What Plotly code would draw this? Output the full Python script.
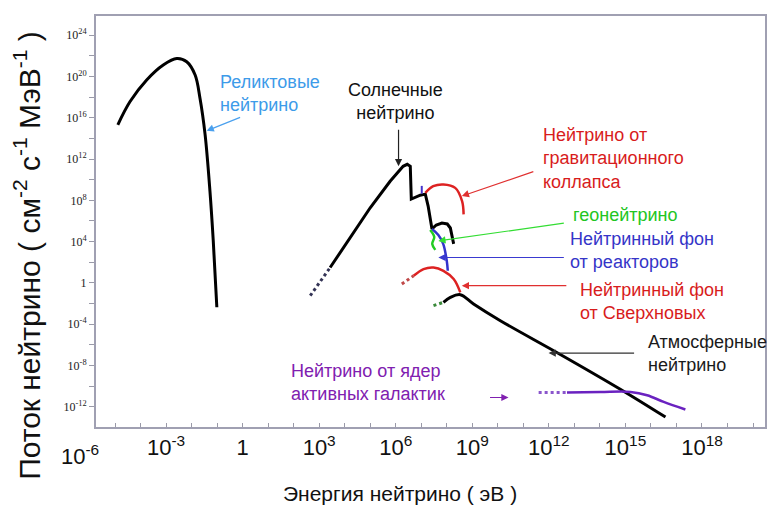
import numpy as np
import plotly.graph_objects as go

# ---- data: log10(E / eV) and log10(flux) ----
relic_logE = [-4.89, -4.41, -3.76, -3.11, -2.58, -2.19, -1.86, -1.67, -1.47, -1.28, -1.15, -1.01]
relic_logF = [15.32, 17.57, 19.66, 21.11, 21.74, 21.43, 20.14, 17.89, 14.36, 8.89, 4.07, -2.36]

solar_dot_logE = [2.65, 3.43]
solar_dot_logF = [-1.24, 1.49]
solar_logE = [3.43, 4.22, 5.00, 5.78, 6.29, 6.45, 6.57, 6.61, 6.96, 7.16, 7.27, 7.42, 7.59, 7.81, 8.02, 8.14, 8.22, 8.27]
solar_logF = [1.49, 4.39, 7.28, 9.85, 11.30, 11.49, 11.30, 8.12, 8.50, 8.60, 7.44, 5.23, 5.61, 5.80, 5.71, 5.32, 4.55, 3.78]

collapse_logE = [7.16, 7.47, 7.87, 8.33, 8.60, 8.66]
collapse_logF = [8.73, 9.37, 9.54, 9.21, 7.93, 6.64]

reactor_logE = [7.42, 7.67, 7.86, 8.00, 8.04]
reactor_logF = [5.23, 4.65, 3.78, 2.14, 1.18]
reactor_tick_logE = [7.02, 7.02]
reactor_tick_logF = [9.40, 8.65]

geo_logE = [7.35, 7.51, 7.43, 7.55]
geo_logF = [5.13, 4.45, 3.78, 3.20]

sn_dot_logE = [6.24, 6.70]
sn_dot_logF = [-0.11, 0.69]
sn_logE = [6.70, 7.09, 7.48, 7.87, 8.27, 8.53]
sn_logF = [0.69, 1.34, 1.49, 1.17, 0.37, -0.92]

atm_dot_logE = [7.48, 7.87]
atm_dot_logF = [-2.20, -1.88]
atm_logE = [7.87, 8.14, 8.53, 9.05, 10.10, 12.45, 14.80, 16.57]
atm_logF = [-1.88, -1.40, -1.14, -2.04, -3.66, -6.93, -10.30, -13.0]

agn_dot_logE = [11.60, 12.71]
agn_dot_logF = [-10.62, -10.62]
agn_logE = [12.71, 14.02, 15.20, 15.85, 16.50, 17.35]
agn_logF = [-10.62, -10.57, -10.56, -10.88, -11.53, -12.26]

# tick labels
x_tick_exp = list(range(-5, 21))
x_label_exp = [-3, 0, 3, 6, 9, 12, 15, 18]
y_tick_exp = list(range(-12, 25, 2))
y_label_exp = [-12, -8, -4, 0, 4, 8, 12, 16, 20, 24]

# labels: (text, color, logE, logF, xanchor)
labels = [
    ("Реликтовые<br>нейтрино", "#3d9be9", -0.96, 18.34, "left"),
    ("Солнечные<br>нейтрино", "#111111", 5.98, 17.62, "center"),
    ("Нейтрино от<br>гравитационного<br>коллапса", "#d81c1c", 11.71, 12.07, "left"),
    ("геонейтрино", "#22c522", 12.88, 6.57, "left"),
    ("Нейтринный фон<br>от реакторов", "#3535c8", 12.76, 3.10, "left"),
    ("Нейтринный фон<br>от Сверхновых", "#d81c1c", 13.16, -1.82, "left"),
    ("Атмосферные<br>нейтрино", "#1a1a1a", 15.82, -6.83, "left"),
    ("Нейтрино от ядер<br>активных галактик", "#8020b0", 1.82, -9.63, "left"),
]
# arrows: (head logE, head logF, ax px, ay px, color)
arrows = [
    (-1.41, 14.74, 35, -14, "#4aa0ee"),
    (6.11, 11.30, 0, -38, "#222222"),
    (8.59, 8.41, 73, -25, "#e03030"),
    (7.67, 4.07, 127, -18, "#33dd33"),
    (7.67, 2.46, 127, 0, "#3a3ad0"),
    (8.59, -0.27, 106, 0, "#e03030"),
    (11.99, -6.80, 87, 0, "#333333"),
    (10.42, -11.10, -20, 0, "#8020b0"),
]

def p10(a):
    return 10.0 ** np.asarray(a, dtype=float)

fig = go.Figure()

def add(xe, ye, color, width=3, dash="solid", shape="linear"):
    fig.add_trace(go.Scatter(x=p10(xe), y=p10(ye), mode="lines",
                             line=dict(color=color, width=width, dash=dash, shape=shape),
                             hoverinfo="skip", showlegend=False))

add(relic_logE, relic_logF, "black", 3, shape="spline")
add(solar_dot_logE, solar_dot_logF, "#333355", 3, dash="dot")
add(sn_dot_logE, sn_dot_logF, "#c04848", 3, dash="dot")
add(atm_dot_logE, atm_dot_logF, "#3a8a3a", 3, dash="dot")
add(agn_dot_logE, agn_dot_logF, "#8a55cc", 3, dash="dot")
add(solar_logE, solar_logF, "black", 3)
add(collapse_logE, collapse_logF, "#dd2222", 2.5, shape="spline")
add(sn_logE, sn_logF, "#dd2222", 2.5, shape="spline")
add(atm_logE, atm_logF, "black", 3, shape="spline")
add(reactor_logE, reactor_logF, "#3333cc", 2.5, shape="spline")
add(reactor_tick_logE, reactor_tick_logF, "#4433cc", 2)
add(geo_logE, geo_logF, "#22cc22", 2.5, shape="spline")
add(agn_logE, agn_logF, "#6a22c0", 2.5, shape="spline")

xmin, xmax = -5.745, 20.47
ymin, ymax = -13.96, 25.86

def sup(e):
    return "1" if e == 0 else "10<sup>%d</sup>" % e

fig.update_xaxes(type="log", range=[xmin, xmax],
                 tickvals=list(p10(x_tick_exp)),
                 ticktext=[sup(e) if e in x_label_exp else "" for e in x_tick_exp],
                 ticks="inside", ticklen=4, tickwidth=1, tickcolor="#9a9aa8",
                 tickfont=dict(family="Liberation Sans", size=22, color="#111"),
                 showline=True, linecolor="#a0a0b2", linewidth=2, mirror=True,
                 showgrid=False, zeroline=False)
fig.update_yaxes(type="log", range=[ymin, ymax],
                 tickvals=list(p10(y_tick_exp)),
                 ticktext=[sup(e) if e in y_label_exp else "" for e in y_tick_exp],
                 ticks="outside", ticklen=5, tickwidth=1, tickcolor="#9a9aa8",
                 tickfont=dict(family="Liberation Serif", size=12, color="#222"),
                 showline=True, linecolor="#a0a0b2", linewidth=2, mirror=True,
                 showgrid=False, zeroline=False)

ann = []
for t, c, lx, ly, xa in labels:
    ann.append(dict(text=t, x=lx, y=ly, xref="x", yref="y", xanchor=xa, yanchor="middle",
                    align=xa, showarrow=False,
                    font=dict(family="Liberation Sans", size=18, color=c)))
for lx, ly, axp, ayp, c in arrows:
    ann.append(dict(text="", x=lx, y=ly, xref="x", yref="y", ax=axp, ay=ayp,
                    showarrow=True, arrowhead=2, arrowsize=1.2, arrowwidth=1.2,
                    arrowcolor=c, standoff=0))
# 10^-6 label lies left of the frame
ann.append(dict(text=sup(-6), x=(-6 - xmin) / (xmax - xmin), y=0, xref="paper", yref="paper",
                yshift=-28, xshift=-9, showarrow=False, xanchor="center", yanchor="middle",
                font=dict(family="Liberation Sans", size=22, color="#111")))
ann.append(dict(text="Энергия нейтрино ( эВ )", x=(400 - 96) / 669, y=(427 - 494) / 413,
                xref="paper", yref="paper", showarrow=False, xanchor="center", yanchor="middle",
                font=dict(family="Liberation Sans", size=21, color="#111")))
ann.append(dict(text="Поток нейтрино ( см<sup>-2</sup> с<sup>-1</sup> МэВ<sup>-1</sup> )",
                x=(27 - 96) / 669, y=(427 - 255) / 413, xref="paper", yref="paper",
                textangle=-90, showarrow=False, xanchor="center", yanchor="middle",
                font=dict(family="Liberation Sans", size=30, color="#111")))

# the page body adds an 8 px offset, so the figure is sized to fit the window
fig.update_layout(width=769, height=502, margin=dict(l=88, r=12, t=6, b=83),
                  paper_bgcolor="white", plot_bgcolor="white", showlegend=False,
                  annotations=ann)
fig.write_html("out.html")
